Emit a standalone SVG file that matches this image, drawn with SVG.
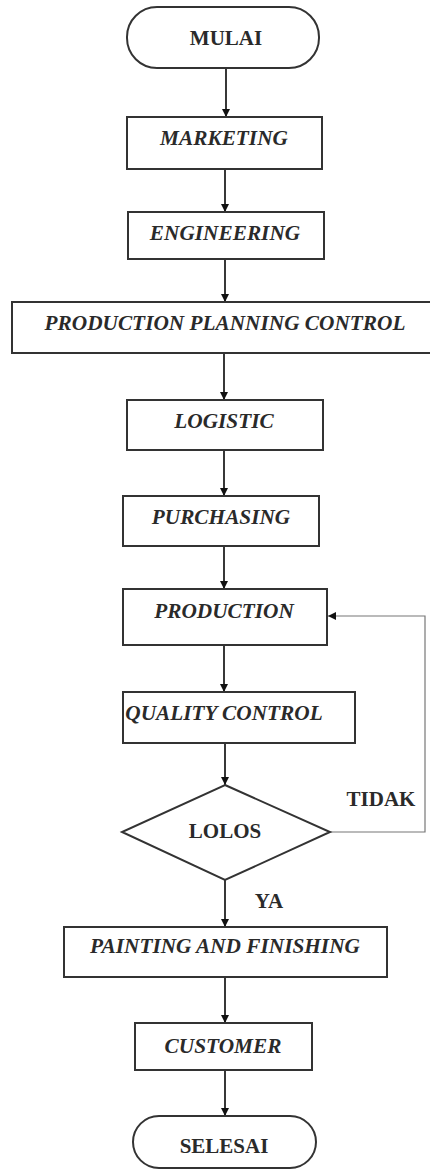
<svg xmlns="http://www.w3.org/2000/svg" width="430" height="1170" viewBox="0 0 430 1170">
<style>
.box{fill:#fff;stroke:#333;stroke-width:2}
.t{font-family:'Liberation Serif','Times New Roman','DejaVu Serif',serif;font-size:21.3px;font-weight:bold;font-style:italic;fill:#2a2a2a;text-anchor:middle}
.n{font-family:'Liberation Serif','Times New Roman','DejaVu Serif',serif;font-size:21px;font-weight:bold;fill:#2a2a2a;text-anchor:middle}
.c{stroke:#222;stroke-width:1.8;fill:none}
.loop{stroke:#777;stroke-width:1.2;fill:none}
</style>
<defs>
<marker id="ah" viewBox="0 0 10 10" refX="10" refY="5" markerWidth="8" markerHeight="8" markerUnits="userSpaceOnUse" orient="auto">
<path d="M0,0 L10,5 L0,10 Z" fill="#111"/>
</marker>
</defs>
<rect width="430" height="1170" fill="#fff"/>
<g id="connectors">
<line class="c" x1="226" y1="68" x2="226" y2="117" marker-end="url(#ah)"/>
<line class="c" x1="225" y1="169" x2="225" y2="212" marker-end="url(#ah)"/>
<line class="c" x1="225" y1="259" x2="225" y2="302" marker-end="url(#ah)"/>
<line class="c" x1="224" y1="353" x2="224" y2="400" marker-end="url(#ah)"/>
<line class="c" x1="224" y1="450" x2="224" y2="496" marker-end="url(#ah)"/>
<line class="c" x1="224" y1="546" x2="224" y2="589" marker-end="url(#ah)"/>
<line class="c" x1="224" y1="645" x2="224" y2="692" marker-end="url(#ah)"/>
<line class="c" x1="225" y1="743" x2="225" y2="785" marker-end="url(#ah)"/>
<line class="c" x1="225" y1="880" x2="225" y2="927" marker-end="url(#ah)"/>
<line class="c" x1="225" y1="977" x2="225" y2="1023" marker-end="url(#ah)"/>
<line class="c" x1="225" y1="1070" x2="225" y2="1116" marker-end="url(#ah)"/>
<polyline class="loop" points="330,832 425,832 425,616 328,616" marker-end="url(#ah)"/>
<text class="n" x="381" y="806">TIDAK</text>
<text class="n" x="269" y="908">YA</text>
</g>
<g id="mulai"><rect class="box" x="127" y="7" width="192" height="61" rx="30" ry="30"/><text class="n" x="226" y="45">MULAI</text></g>
<g id="marketing"><rect class="box" x="127" y="117" width="195" height="52"/><text class="t" x="224" y="145">MARKETING</text></g>
<g id="engineering"><rect class="box" x="128" y="212" width="196" height="47"/><text class="t" x="225" y="240">ENGINEERING</text></g>
<g id="ppc"><rect class="box" x="12" y="302" width="430" height="51"/><text class="t" x="225" y="330">PRODUCTION PLANNING CONTROL</text></g>
<g id="logistic"><rect class="box" x="127" y="400" width="196" height="50"/><text class="t" x="224" y="428">LOGISTIC</text></g>
<g id="purchasing"><rect class="box" x="123" y="496" width="196" height="50"/><text class="t" x="221" y="524">PURCHASING</text></g>
<g id="production"><rect class="box" x="123" y="589" width="204" height="56"/><text class="t" x="224" y="618">PRODUCTION</text></g>
<g id="qc"><rect class="box" x="123" y="692" width="232" height="51"/><text class="t" x="224" y="720">QUALITY CONTROL</text></g>
<g id="lolos"><polygon class="box" points="225,785 330,832 225,880 122,832"/><text class="n" x="225" y="838">LOLOS</text></g>
<g id="painting"><rect class="box" x="64" y="927" width="323" height="50"/><text class="t" x="225" y="953">PAINTING AND FINISHING</text></g>
<g id="customer"><rect class="box" x="135" y="1023" width="177" height="47"/><text class="t" x="223" y="1053">CUSTOMER</text></g>
<g id="selesai"><rect class="box" x="133" y="1116" width="183" height="52" rx="26" ry="26"/><text class="n" x="224" y="1153">SELESAI</text></g>
</svg>
